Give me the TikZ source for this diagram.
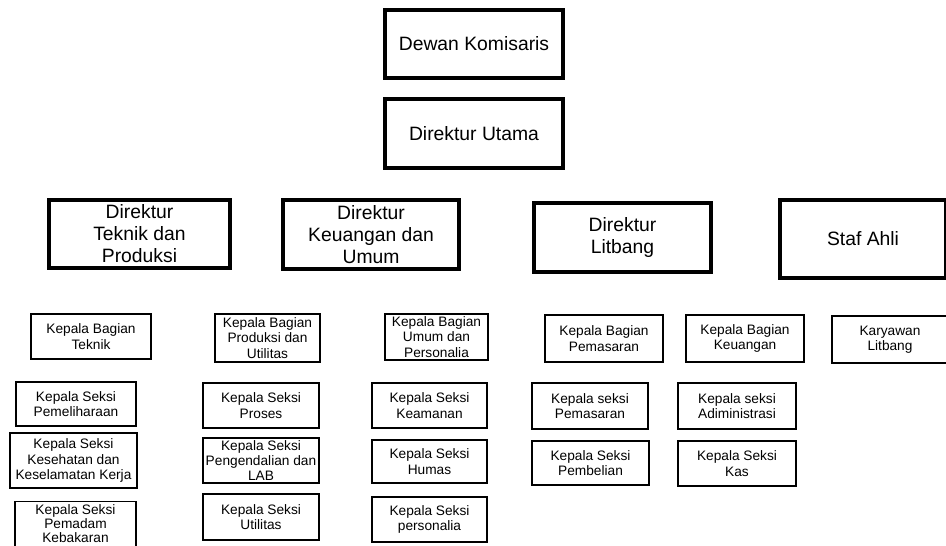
\documentclass[tikz,border=0pt]{standalone}
\usepackage{fontspec}
\setmainfont{Liberation Sans}
\begin{document}
\begin{tikzpicture}[
	bigbox/.style={draw, line width=1.8pt, align=center, inner sep=1pt, font=\fontsize{11}{12.5}\selectfont},
	smallbox/.style={draw, line width=0.9pt, align=center, inner sep=1pt, font=\fontsize{7.8}{8.8}\selectfont}]
		\useasboundingbox (0, 0) rectangle (18.92, -10.92);
		\node [bigbox, minimum width=3.56cm, minimum height=1.36cm] (0) at (9.48, -0.88) {Dewan Komisaris};
		\node [bigbox, minimum width=3.56cm, minimum height=1.38cm] (1) at (9.48, -2.67) {Direktur Utama};
		\node [bigbox, minimum width=3.62cm, minimum height=1.36cm] (2) at (2.79, -4.68) {Direktur\\Teknik dan\\Produksi};
		\node [bigbox, minimum width=3.52cm, minimum height=1.38cm] (3) at (7.42, -4.69) {Direktur\\Keuangan dan\\Umum};
		\node [bigbox, minimum width=3.54cm, minimum height=1.38cm] (4) at (12.45, -4.75) {Direktur\\Litbang};
		\node [bigbox, minimum width=3.32cm, minimum height=1.56cm] (5) at (17.26, -4.78) {Staf Ahli};
		\node [smallbox, minimum width=2.40cm, minimum height=0.90cm] (6) at (1.82, -6.73) {Kepala Bagian\\Teknik};
		\node [smallbox, minimum width=2.40cm, minimum height=0.88cm] (7) at (1.52, -8.08) {Kepala Seksi\\Pemeliharaan};
		\node [smallbox, minimum width=2.54cm, minimum height=1.10cm] (8) at (1.47, -9.21) {Kepala Seksi\\Kesehatan dan\\Keselamatan Kerja};
		\node [smallbox, minimum width=2.42cm, minimum height=0.90cm, font=\fontsize{7.8}{8}\selectfont] (9) at (1.51, -10.48) {Kepala Seksi\\Pemadam\\Kebakaran};
		\node [smallbox, minimum width=2.10cm, minimum height=0.96cm] (10) at (5.35, -6.76) {Kepala Bagian\\Produksi dan\\Utilitas};
		\node [smallbox, minimum width=2.32cm, minimum height=0.90cm] (11) at (5.22, -8.11) {Kepala Seksi\\Proses};
		\node [smallbox, minimum width=2.32cm, minimum height=0.90cm] (12) at (5.22, -9.21) {Kepala Seksi\\Pengendalian dan\\LAB};
		\node [smallbox, minimum width=2.32cm, minimum height=0.92cm] (13) at (5.22, -10.34) {Kepala Seksi\\Utilitas};
		\node [smallbox, minimum width=2.06cm, minimum height=0.92cm] (14) at (8.73, -6.74) {Kepala Bagian\\Umum dan\\Personalia};
		\node [smallbox, minimum width=2.30cm, minimum height=0.90cm] (15) at (8.59, -8.11) {Kepala Seksi\\Keamanan};
		\node [smallbox, minimum width=2.30cm, minimum height=0.86cm] (16) at (8.59, -9.23) {Kepala Seksi\\Humas};
		\node [smallbox, minimum width=2.30cm, minimum height=0.90cm] (17) at (8.59, -10.39) {Kepala Seksi\\personalia};
		\node [smallbox, minimum width=2.36cm, minimum height=0.94cm] (18) at (12.08, -6.77) {Kepala Bagian\\Pemasaran};
		\node [smallbox, minimum width=2.36cm, minimum height=0.94cm] (19) at (14.90, -6.77) {Kepala Bagian\\Keuangan};
		\node [smallbox, minimum width=2.32cm, minimum height=0.94cm] (20) at (17.80, -6.79) {Karyawan\\Litbang};
		\node [smallbox, minimum width=2.32cm, minimum height=0.92cm] (21) at (11.80, -8.12) {Kepala seksi\\Pemasaran};
		\node [smallbox, minimum width=2.36cm, minimum height=0.92cm] (22) at (14.74, -8.12) {Kepala seksi\\Adiministrasi};
		\node [smallbox, minimum width=2.34cm, minimum height=0.88cm] (23) at (11.81, -9.26) {Kepala Seksi\\Pembelian};
		\node [smallbox, minimum width=2.36cm, minimum height=0.90cm] (24) at (14.74, -9.27) {Kepala Seksi\\Kas};
\end{tikzpicture}
\end{document}
